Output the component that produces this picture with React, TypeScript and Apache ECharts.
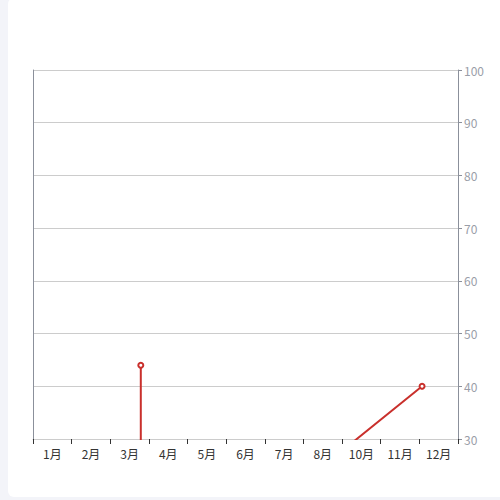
import React, { useEffect, useRef } from 'react';
import * as echarts from 'echarts';

const months = ['1月', '2月', '3月', '4月', '5月', '6月', '7月', '8月', '10月', '11月', '12月'];
// line points on a hidden 0..11 value axis laid over the month bands
const lineX = [2.79, 2.79, 7.4, 10.07];
const lineY = [44, 10, 24.2, 40];
const yMin = 30;
const yMax = 100;
const yStep = 10;

export default function App() {
  const elRef = useRef<HTMLDivElement | null>(null);

  useEffect(() => {
    document.body.style.margin = '0';
    document.body.style.background = '#f3f4f9';
    if (!elRef.current) return;
    const chart = echarts.init(elRef.current, undefined, { renderer: 'svg' });

    const opt: echarts.EChartsOption = {
      animation: false,
      textStyle: { fontFamily: '"Noto Sans CJK SC", "Noto Sans", sans-serif' },
      grid: { left: 33, right: 42, top: 70, bottom: 61 },
      xAxis: [
        {
          type: 'category',
          data: months,
          boundaryGap: true,
          axisLine: { show: true, onZero: false, lineStyle: { color: '#cccccc' } },
          axisTick: { show: true, length: 5, lineStyle: { color: '#333333' } },
          axisLabel: { color: '#333333', fontSize: 12, margin: 8, interval: 0 },
          splitLine: { show: false },
        },
        {
          type: 'value',
          min: 0,
          max: 11,
          show: false,
        },
      ],
      yAxis: [
        {
          type: 'value',
          position: 'right',
          min: yMin,
          max: yMax,
          interval: yStep,
          axisLine: { show: true, onZero: false, lineStyle: { color: '#8b909b' } },
          axisTick: { show: true, length: 4, lineStyle: { color: '#8b909b' } },
          axisLabel: { color: '#9a9ea8', fontSize: 12, margin: 6 },
          splitLine: { show: true, lineStyle: { color: '#cccccc' } },
        },
        {
          type: 'value',
          position: 'left',
          min: yMin,
          max: yMax,
          interval: yStep,
          axisLine: { show: true, onZero: false, lineStyle: { color: '#8b909b' } },
          axisTick: { show: false },
          axisLabel: { show: false },
          splitLine: { show: false },
        },
      ],
      series: [
        {
          type: 'line',
          xAxisIndex: 1,
          yAxisIndex: 0,
          data: lineX.map((x, i) => [x, lineY[i]]),
          clip: true,
          symbol: 'emptyCircle',
          symbolSize: 5,
          lineStyle: { color: '#c9302c', width: 2 },
          itemStyle: { color: '#c9302c', borderWidth: 1 },
        },
      ],
    };

    chart.setOption(opt);
    return () => {
      chart.dispose();
    };
  }, []);

  return (
    <div style={{ position: 'relative', width: 500, height: 500, overflow: 'hidden' }}>
      <div
        style={{
          position: 'absolute',
          left: 8,
          top: -2,
          width: 520,
          height: 499,
          background: '#ffffff',
          borderRadius: 6,
        }}
      />
      <div ref={elRef} style={{ position: 'absolute', left: 0, top: 0, width: 500, height: 500 }} />
    </div>
  );
}
